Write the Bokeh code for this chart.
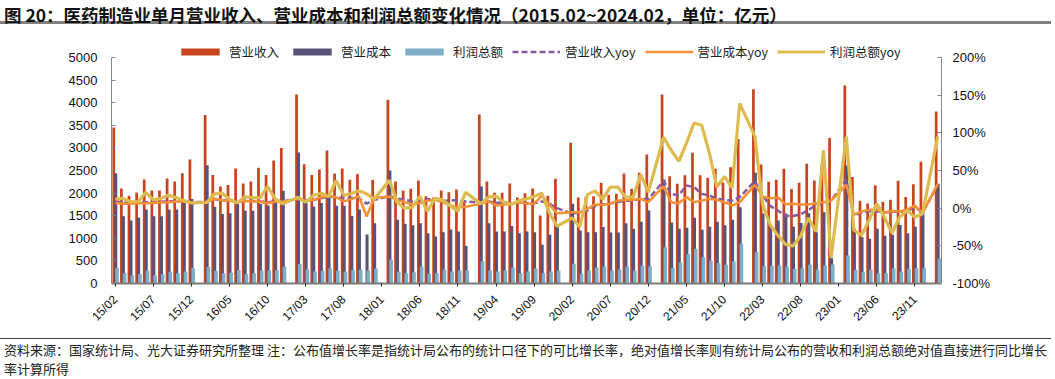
import math
from bokeh.plotting import figure
from bokeh.models import (Range1d, LinearAxis, FixedTicker, Legend, LegendItem,
                          Div, ColumnDataSource, PrintfTickFormatter)
from bokeh.layouts import column
from bokeh.embed import file_html
from bokeh.resources import INLINE

NaN = float("nan")

# Data points: Feb-Dec of 2015..2023 plus Feb 2024 (January is not published separately)
years = [2015, 2016, 2017, 2018, 2019, 2020, 2021, 2022, 2023, 2024]
months = [2, 3, 4, 5, 6, 7, 8, 9, 10, 11, 12]

# 营业收入 (亿元)
revenue = [
    3450, 2100, 1940, 2015, 2300, 2058, 2058, 2322, 2258, 2441, 2743,
    3727, 2400, 2145, 2180, 2545, 2215, 2257, 2560, 2400, 2721, 3000,
    4183, 2638, 2400, 2520, 2943, 2435, 2542, 2298, 2422, NaN, 2297,
    4063, 2257, 2058, 2098, 2279, 1930, 1900, 2058, 2021, 2080, 1800,
    3739, 2257, 2010, 2010, 2215, 1900, 1995, 2100, 1504, 1940, 2316,
    3115, 1900, 1915, 1930, 2230, 1962, 1988, 2434, 2094, 2450, 2854,
    4181, 2375, 2205, 2395, 2895, 2395, 2338, 2537, 2235, 2574, 3197,
    4299, 2633, 2250, 2297, 2537, 2090, 2227, 2647, 2277, 2633, 3219,
    4381, 2357, 1833, 1770, 2175, 1810, 1855, 2271, 1913, 2197, 2695,
    3805,
]
# 营业成本 (亿元)
cost = [
    2441, 1490, 1392, 1460, 1635, 1490, 1490, 1635, 1635, 1780, 1870,
    2615, 1700, 1535, 1555, 1760, 1612, 1612, 1760, 1725, 1820, 2050,
    2900, 1785, 1703, 1780, 1910, 1720, 1720, 1495, 1635, 1085, 1335,
    2500, 1410, 1320, 1290, 1335, 1114, 1040, 1136, 1195, 1150, 830,
    2146, 1335, 1150, 1150, 1272, 1114, 1150, 1132, 855, 1077, 1261,
    1763, 1173, 1136, 1136, 1250, 1128, 1128, 1335, 1209, 1364, 1615,
    2301, 1350, 1209, 1231, 1453, 1187, 1254, 1368, 1290, 1412, 1689,
    2448, 1550, 1275, 1394, 1550, 1254, 1340, 1552, 1136, 1578, 557,
    2611, 1210, 1025, 988, 1209, 1055, 1077, 1294, 1114, 1254, 1620,
    2205,
]
# 利润总额 (亿元)
profit = [
    345, 225, 185, 206, 285, 185, 206, 262, 229, 265, 345,
    370, 280, 229, 240, 300, 207, 225, 285, 288, 300, 370,
    429, 311, 266, 281, 340, 281, 259, 296, 310, 288, 332,
    531, 265, 229, 251, 376, 214, 229, 310, 265, 288, 288,
    494, 288, 265, 288, 354, 229, 265, 332, 229, 265, 288,
    435, 214, 288, 354, 376, 288, 310, 376, 288, 398, 376,
    804, 347, 465, 650, 770, 583, 509, 455, 413, 490, 878,
    693, 383, 390, 398, 376, 324, 339, 413, 310, 398, 420,
    619, 302, 251, 302, 229, 229, 339, 265, 324, 339, 339,
    546,
]
# 营业收入yoy (%)
revenue_yoy = [
    9, 7.5, 7, 7.5, 8, 8.5, 8.5, 9, 9.5, 9.5, 8,
    8.5, 12, 10.5, 10, 9, 10, 9.5, 9, 8, 9, 9.5,
    12, 10, 11, 13, 15.5, 14.5, 13, 13.5, 13, 6, 11,
    16, 13, 11, 9, 10, 12, 12, 10, 10, 11, 9,
    7, 9, 7, 8, 6, 8, 6.5, 6.5, 9, 6, 0,
    -7, -6, -3, 3, 5, 6, 8, 10, 10, 13, 12,
    36, 19, 17, 30, 28, 19, 17, 12.4, 11, 10, 14.6,
    36, 17, 3, -3, -10, -10.5, -8, -3, 4.6, 6, 10,
    38, -10, -6, -4, -4, -6, -4.5, -5, -4, 2, -6,
    30,
]
# 营业成本yoy (%)
cost_yoy = [
    7, 6, 6, 6.5, 6.5, 7, 7.5, 8, 9, 9, 7.5,
    8, 12.5, 10.5, 10, 7.5, 9.5, 9, 8.5, 6.5, 8.5, 9,
    12, 9, 11, 14.5, 16.5, 14.5, 9, 12, 16, -11, 13.6,
    15.4, 11, 8, 5, 6.6, 10, 11, 8, 3.5, 1.2, 2,
    5.7, 9.2, 3.5, 4.8, 5.7, 7.9, 5.7, 5.7, 16.7, 5, -6.7,
    -5.5, -5.5, -1, 5, 4.5, 6, 10, 11, 11, 12.4, 8,
    29, 8, 6.6, 14.6, 8, 10, 12.4, 11, 8, 3.5, 8,
    31, 15.6, 13, 14.5, 5.3, 6, 4.8, 5, 6.6, 8, 10,
    31, -8.6, -4.6, -2, -2, -6, -3.5, -4.5, -2, 3.5, -6.5,
    32,
]
# 利润总额yoy (%)
profit_yoy = [
    12, 13, 8.5, 8.5, 21, 11, 13, 17, 14, 10, 7,
    7.5, 19, 20, 12, 7, 15, 14, 13.5, 28.5, 12.3, 5.7,
    14.5, 8, 16.7, 19.8, 15.4, 36.7, 17, 19.5, 23, 19, 12,
    37, 8, 0, 1, 16, -4, 13, 11, 3, -4, 21,
    6, 14.6, 16, 8, 5, 10, 12.4, 15.5, 20, -6, -24,
    -13, -25, 18, 23, 12, 28, 28, 14.6, 14.6, 44.7, 21,
    94, 77, 62, 86, 113, 110, 74, 28, 42, 27, 139,
    95, 5, -22, -36, -48, -50, -37, -13, -31, 77, -66,
    95, -29, -36, -16, 6, -12, -33, -12, -3, -12, -7.5,
    95,
]

tick_labels = ["15/02", "15/07", "15/12", "16/05", "16/10", "17/03", "17/08",
               "18/01", "18/06", "18/11", "19/04", "19/09", "20/02", "20/07",
               "20/12", "21/05", "21/10", "22/03", "22/08", "23/01", "23/06",
               "23/11"]

title_text = "图 20：医药制造业单月营业收入、营业成本和利润总额变化情况（2015.02~2024.02，单位：亿元）"
note_line1 = ("资料来源：国家统计局、光大证券研究所整理 注：公布值增长率是指统计局公布的统计口径下的可比增长率，"
              "绝对值增长率则有统计局公布的营收和利润总额绝对值直接进行同比增长")
note_line2 = "率计算所得"

# category index of each data point (monthly axis from 2015/02, January slots left empty)
xs = []
for y in years:
    for m in months:
        if y == 2024 and m > 2:
            break
        xs.append((y - 2015) * 12 + (m - 2))

n_cats = 109

src = ColumnDataSource(dict(
    x_rev=[x - 0.2 for x in xs],
    x_cost=[x + 0.06 for x in xs],
    x_prof=[x + 0.22 for x in xs],
    x=xs,
    revenue=revenue, cost=cost, profit=profit,
    revenue_yoy=revenue_yoy, cost_yoy=cost_yoy, profit_yoy=profit_yoy,
))

RED = "#C8441F"
NAVY = "#585278"
LBLUE = "#7EADC6"
PURPLE = "#87599F"
ORANGE = "#F78F34"
YELLOW = "#DDBB4E"

# frame spans 242 px; the value axes (0..5000 / -100..200%) use the lower 226 px,
# the upper strip holds the legend
LEFT_MAX, RIGHT_MIN, RIGHT_MAX = 5000, -100, 200
stretch = 242 / 226
p = figure(width=1055, height=306, x_range=Range1d(-0.5, n_cats - 0.5),
           y_range=Range1d(0, LEFT_MAX * stretch), output_backend="svg",
           toolbar_location=None,
           min_border_left=111, min_border_right=114, min_border_top=9,
           min_border_bottom=55, margin=(0, 0, 0, 0))
p.outline_line_color = None
p.xgrid.visible = False
p.ygrid.visible = False
p.background_fill_color = "white"
p.border_fill_alpha = 0

p.extra_y_ranges = {"pct": Range1d(RIGHT_MIN, RIGHT_MIN + (RIGHT_MAX - RIGHT_MIN) * stretch)}

r_rev = p.vbar(x="x_rev", top="revenue", width=0.36, source=src,
               fill_color=RED, line_color=None)
r_cost = p.vbar(x="x_cost", top="cost", width=0.4, source=src,
                fill_color=NAVY, line_color=None)
r_prof = p.vbar(x="x_prof", top="profit", width=0.48, source=src,
                fill_color=LBLUE, line_color=None)

r_ryoy = p.line(x="x", y="revenue_yoy", source=src, y_range_name="pct",
                line_color=PURPLE, line_width=2.5, line_dash="6 3")
r_cyoy = p.line(x="x", y="cost_yoy", source=src, y_range_name="pct",
                line_color=ORANGE, line_width=2.5)
r_pyoy = p.line(x="x", y="profit_yoy", source=src, y_range_name="pct",
                line_color=YELLOW, line_width=3.2)

# left axis
ya = p.yaxis[0]
ya.ticker = FixedTicker(ticks=list(range(0, 5001, 500)))
ya.bounds = (0, LEFT_MAX)
ya.axis_line_color = "#868686"
ya.major_tick_line_color = "#868686"
ya.major_tick_in = 4
ya.major_tick_out = 0
ya.minor_tick_line_color = None
ya.major_label_text_font = "Liberation Sans"
ya.major_label_text_font_size = "13px"
ya.major_label_text_color = "#111111"
ya.major_label_standoff = 14

# right axis
ra = LinearAxis(y_range_name="pct", ticker=FixedTicker(ticks=list(range(-100, 201, 50))),
                formatter=PrintfTickFormatter(format="%d%%"), bounds=(RIGHT_MIN, RIGHT_MAX))
ra.axis_line_color = "#868686"
ra.major_tick_line_color = "#868686"
ra.major_tick_in = 4
ra.major_tick_out = 0
ra.minor_tick_line_color = None
ra.major_label_text_font = "Liberation Sans"
ra.major_label_text_font_size = "13px"
ra.major_label_text_color = "#111111"
ra.major_label_standoff = 11
p.add_layout(ra, "right")

# bottom axis
xa = p.xaxis[0]
tick_pos = list(range(0, 106, 5))
xa.ticker = FixedTicker(ticks=tick_pos)
xa.major_label_overrides = {t: lab for t, lab in zip(tick_pos, tick_labels)}
xa.major_label_orientation = math.pi / 4
xa.axis_line_color = "#7a7a7a"
xa.axis_line_width = 2
xa.major_tick_line_color = "#222222"
xa.major_tick_in = 0
xa.major_tick_out = 3
xa.minor_tick_line_color = None
xa.major_label_text_font = "Liberation Sans"
xa.major_label_text_font_size = "12px"
xa.major_label_text_color = "#111111"
xa.major_label_standoff = 11

legend = Legend(items=[
    LegendItem(label="营业收入", renderers=[r_rev]),
    LegendItem(label="营业成本", renderers=[r_cost]),
    LegendItem(label="利润总额", renderers=[r_prof]),
    LegendItem(label="营业收入yoy", renderers=[r_ryoy]),
    LegendItem(label="营业成本yoy", renderers=[r_cyoy]),
    LegendItem(label="利润总额yoy", renderers=[r_pyoy]),
], orientation="horizontal", location=(65, 222), glyph_width=48, glyph_height=9,
    label_standoff=5, spacing=9, padding=0, margin=0, border_line_color=None,
    background_fill_alpha=0, label_text_font="Noto Sans CJK SC",
    label_text_font_size="12.5px", label_text_color="#222222")
p.add_layout(legend)

title_div = Div(
    text=('<div style="font-family:\'Noto Sans CJK SC\';font-weight:bold;font-size:17.5px;'
          'line-height:20px;height:24px;padding-top:5px;padding-left:4px;white-space:nowrap;color:#111;'
          'border-bottom:3px solid #808080;width:1051px;">' + title_text + '</div>'),
    width=1055, height=32, margin=(0, 0, 0, 0), styles={"overflow": "visible"})

note_div = Div(
    text=('<div style="font-family:\'Noto Sans CJK SC\';font-size:13px;line-height:19px;'
          'padding-top:1px;padding-left:4px;white-space:nowrap;color:#222;'
          'border-top:1px solid #404040;width:1051px;">'
          + note_line1 + '<br>' + note_line2 + '</div>'),
    width=1055, height=41, margin=(0, 0, 0, 0), styles={"overflow": "visible"})

layout = column(title_div, p, note_div, spacing=0)

open("out.html", "w").write(file_html(layout, INLINE))
